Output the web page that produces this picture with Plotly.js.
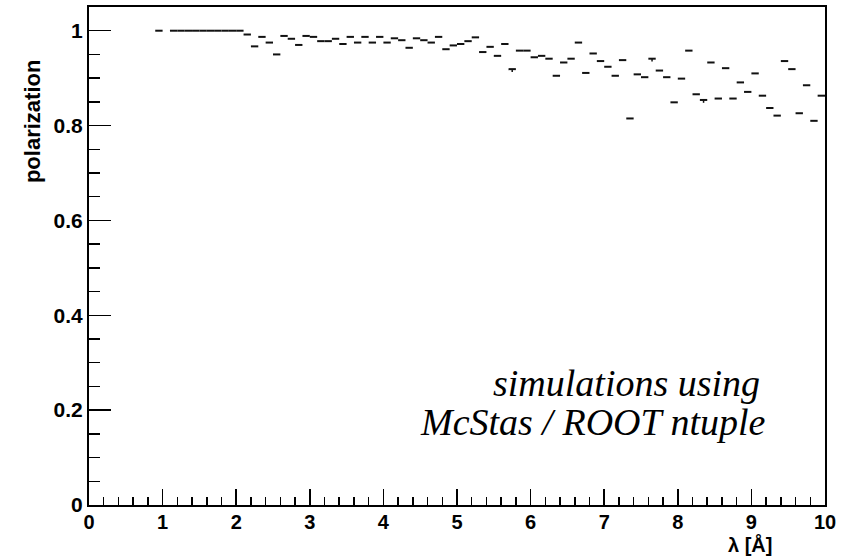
<!DOCTYPE html>
<html>
<head>
<meta charset="utf-8">
<script src="https://cdn.plot.ly/plotly-3.0.1.min.js"></script>
<style>html,body{margin:0;padding:0;background:#fff;}#chart{width:842px;height:556px;}</style>
</head>
<body>
<div id="chart"></div>
<script>
// Bin centres (wavelength, Å), bin width 0.1 Å
const lambda = [0.95,1.05,1.15,1.25,1.35,1.45,1.55,1.65,1.75,1.85,1.95,2.05,
  2.15,2.25,2.35,2.45,2.55,2.65,2.75,2.85,2.95,3.05,3.15,3.25,3.35,3.45,3.55,3.65,3.75,3.85,3.95,
  4.05,4.15,4.25,4.35,4.45,4.55,4.65,4.75,4.85,4.95,5.05,5.15,5.25,5.35,5.45,5.55,5.65,5.75,5.85,5.95,
  6.05,6.15,6.25,6.35,6.45,6.55,6.65,6.75,6.85,6.95,7.05,7.15,7.25,7.35,7.45,7.55,7.65,7.75,7.85,7.95,
  8.05,8.15,8.25,8.35,8.45,8.55,8.65,8.75,8.85,8.95,9.05,9.15,9.25,9.35,9.45,9.55,9.65,9.75,9.85,9.95];
// Mean polarization per bin
const polarization = [1.0,null,1.0,1.0,1.0,1.0,1.0,1.0,1.0,1.0,1.0,1.0,
  0.992,0.967,0.987,0.975,0.950,0.989,0.983,0.970,0.989,0.987,0.978,0.978,0.983,0.972,0.987,0.975,0.987,0.975,0.987,
  0.975,0.984,0.980,0.964,0.984,0.980,0.975,0.987,0.961,0.969,0.972,0.978,0.986,0.955,0.966,0.947,0.972,0.919,0.958,0.958,
  0.944,0.947,0.941,0.905,0.933,0.941,0.975,0.911,0.952,0.936,0.924,0.905,0.938,0.815,0.908,0.902,0.941,0.916,0.902,0.849,
  0.899,0.958,0.866,0.854,0.933,0.857,0.921,0.857,0.891,0.871,0.910,0.863,0.837,0.821,0.936,0.919,0.826,0.885,0.810,0.863];
// Lower error on the mean (only a few are visible)
const errLow = [0,0,0,0,0,0,0,0,0,0,0,0,
  0,0,0,0,0,0,0,0,0,0,0,0,0,0,0,0,0,0,0,
  0,0,0,0,0,0,0,0,0,0,0,0,0,0,0,0,0,0.006,0,0,
  0,0,0,0,0,0,0,0,0,0,0,0,0,0,0,0,0.006,0,0,0,
  0,0,0,0.006,0,0,0,0,0,0,0,0,0,0,0,0,0,0,0,0];
const halfBin = 0.05;
const xTicks = [0,1,2,3,4,5,6,7,8,9,10];
const yTicks = [0,0.2,0.4,0.6,0.8,1];

const tickFont = {family:'Liberation Sans, Arial, sans-serif', size:20, color:'#000', weight:'bold'};

const trace = {
  x: lambda, y: polarization, type:'scatter', mode:'markers',
  marker:{size:1, color:'rgba(0,0,0,0)'},
  error_x:{type:'constant', value:halfBin, width:0, thickness:2, color:'#111'},
  error_y:{type:'data', symmetric:false, array:errLow.map(()=>0), arrayminus:errLow, width:0, thickness:1.5, color:'#111'},
  hoverinfo:'x+y', showlegend:false
};

const layout = {
  width:842, height:556,
  margin:{l:89, r:17, t:7, b:51},
  paper_bgcolor:'#fff', plot_bgcolor:'#fff',
  showlegend:false,
  xaxis:{range:[0,10], tickvals:xTicks, ticktext:xTicks.map(String),
    ticks:'inside', ticklen:16, tickwidth:1.5, tickcolor:'#000', ticklabelstandoff:-2,
    minor:{dtick:0.2, ticks:'inside', ticklen:8, tickwidth:1.5, tickcolor:'#000', showgrid:false},
    showline:true, linecolor:'#000', linewidth:2, mirror:true, showgrid:false, zeroline:false,
    tickfont:tickFont, fixedrange:true},
  yaxis:{range:[0,1.05], tickvals:yTicks, ticktext:yTicks.map(String),
    ticks:'inside', ticklen:22, tickwidth:1.5, tickcolor:'#000',
    minor:{dtick:0.05, ticks:'inside', ticklen:11, tickwidth:1.5, tickcolor:'#000', showgrid:false},
    showline:true, linecolor:'#000', linewidth:2, mirror:true, showgrid:false, zeroline:false,
    tickfont:{family:'Liberation Sans, Arial, sans-serif', size:21, color:'#000', weight:'bold'}, fixedrange:true},
  annotations:[
    {text:'polarization', xref:'paper', yref:'paper', x:-0.0774, y:0.769, textangle:-90,
     showarrow:false, xanchor:'center', yanchor:'middle',
     font:{family:'Liberation Sans, Arial, sans-serif', size:22, color:'#000', weight:'bold'}},
    {text:'λ [Å]', xref:'paper', yref:'paper', x:0.898, y:-0.0803, showarrow:false,
     xanchor:'center', yanchor:'middle', borderpad:0,
     font:{family:'Liberation Sans, Arial, sans-serif', size:20, color:'#000', weight:'bold'}},
    {text:'simulations using', xref:'paper', yref:'paper', x:0.9144, y:0.245, showarrow:false,
     xanchor:'right', yanchor:'middle',
     font:{family:'Liberation Serif, Times New Roman, serif', size:38, color:'#000', style:'italic'}},
    {text:'McStas / ROOT ntuple', xref:'paper', yref:'paper', x:0.9226, y:0.1667, showarrow:false,
     xanchor:'right', yanchor:'middle',
     font:{family:'Liberation Serif, Times New Roman, serif', size:38, color:'#000', style:'italic'}}
  ]
};

Plotly.newPlot('chart', [trace], layout, {displayModeBar:false, staticPlot:true});
</script>
</body>
</html>
